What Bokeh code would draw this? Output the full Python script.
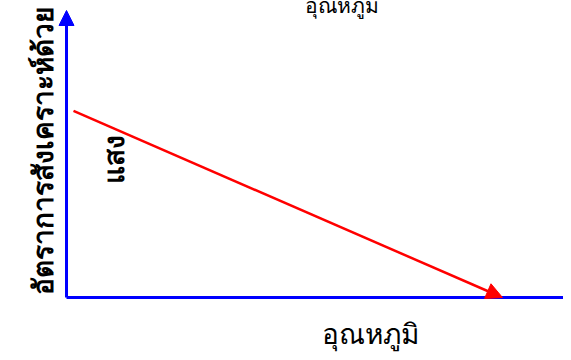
from bokeh.plotting import figure
from bokeh.models import Range1d, Arrow, NormalHead, Label
from bokeh.embed import file_html
from bokeh.resources import INLINE
import math

# Data (arbitrary units of a concept chart)
temperature = [0.16, 10.0]
rate = [6.5, 0.0]
y_axis_top = 10.0
x_axis_end = 11.6

title_text = "อุณหภูมิ"
x_label = "อุณหภูมิ"
y_label = "อัตราการสังเคราะห์ด้วย"
line_label = "แสง"

W, H = 563, 352
p = figure(width=W, height=H, output_backend="svg", toolbar_location=None,
           x_range=Range1d(-1.514, 11.40), y_range=Range1d(-1.916, 10.348),
           min_border=0, min_border_left=0, min_border_right=0,
           min_border_top=0, min_border_bottom=0)
p.axis.visible = False
p.grid.visible = False
p.outline_line_color = None
p.background_fill_color = "white"
p.border_fill_color = "white"

# axes drawn as arrows
p.add_layout(Arrow(end=NormalHead(size=15, fill_color="#0000ff", line_color="#0000ff"),
                   x_start=0, y_start=0, x_end=0, y_end=y_axis_top,
                   line_color="#0000ff", line_width=3))
p.add_layout(Arrow(end=None, x_start=0, y_start=0, x_end=x_axis_end, y_end=0,
                   line_color="#0000ff", line_width=3))

# the data line with arrowhead
p.add_layout(Arrow(end=NormalHead(size=16, fill_color="#ff0000", line_color="#ff0000"),
                   x_start=temperature[0], y_start=rate[0],
                   x_end=temperature[1], y_end=rate[1],
                   line_color="#ff0000", line_width=2.5))

p.add_layout(Label(x=341, y=348, x_units="screen", y_units="screen", text=title_text,
                   text_align="center", text_baseline="alphabetic",
                   text_font="Noto Sans", text_font_size="21px", text_color="black"))
p.add_layout(Label(x=370, y=20, x_units="screen", y_units="screen", text=x_label,
                   text_align="center", text_baseline="alphabetic",
                   text_font="Noto Serif", text_font_size="28px", text_color="black"))
p.add_layout(Label(x=41, y=202, x_units="screen", y_units="screen", text=y_label,
                   angle=math.pi / 2, text_align="center", text_baseline="alphabetic",
                   text_font="Noto Sans", text_font_size="28px", text_font_style="bold",
                   text_color="black"))
p.add_layout(Label(x=112, y=193, x_units="screen", y_units="screen", text=line_label,
                   angle=math.pi / 2, text_align="center", text_baseline="alphabetic",
                   text_font="Noto Sans", text_font_size="28px", text_font_style="bold",
                   text_color="black"))

open("out.html", "w").write(file_html(p, INLINE))
